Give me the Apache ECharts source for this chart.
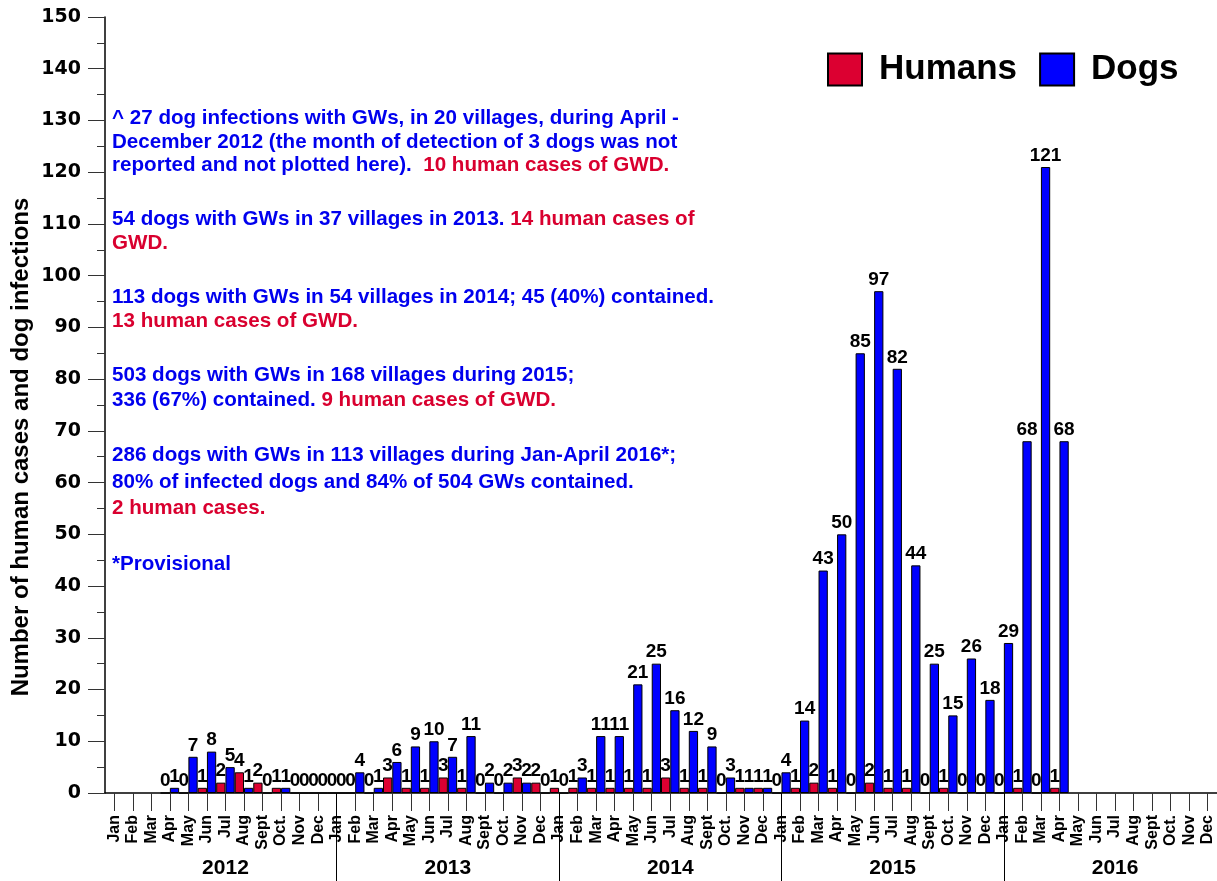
<!DOCTYPE html>
<html>
<head>
<meta charset="utf-8">
<script src="https://cdn.jsdelivr.net/npm/echarts@6/dist/echarts.min.js"></script>
<style>
html,body{margin:0;padding:0;background:#fff;}
#chart{width:1217px;height:881px;}
</style>
</head>
<body>
<div id="chart"></div>
<script>
// ---- data ----
const monthNames = ['Jan','Feb','Mar','Apr','May','Jun','Jul','Aug','Sept','Oct.','Nov','Dec'];
const yearLabels = ['2012','2013','2014','2015','2016'];

const humans2012 = [null,null,null,0,0,1,2,4,2,1,0,0];
const dogs2012   = [null,null,null,1,7,8,5,1,0,1,0,0];
const humans2013 = [0,0,0,3,1,1,3,1,0,0,3,2];
const dogs2013   = [0,4,1,6,9,10,7,11,2,2,2,0];
const humans2014 = [1,1,1,1,1,1,3,1,1,0,1,1];
const dogs2014   = [0,3,11,11,21,25,16,12,9,3,1,1];
const humans2015 = [0,1,2,1,0,2,1,1,0,1,0,0];
const dogs2015   = [4,14,43,50,85,97,82,44,25,15,26,18];
const humans2016 = [0,1,0,1,null,null,null,null,null,null,null,null];
const dogs2016   = [29,68,121,68,null,null,null,null,null,null,null,null];

const yTicks = {min:0, max:150, step:10};

const BLUE_TXT = '#0000EE', RED_TXT = '#D9002F';
// annotation lines: [segments], each segment [colorKey, text]
const notes = [
  [['b','^ 27 dog infections with GWs, in 20 villages, during April -']],
  [['b','December 2012 (the month of detection of 3 dogs was not']],
  [['b','reported and not plotted here).  '],['r','10 human cases of GWD.']],
  [['b','54 dogs with GWs in 37 villages in 2013. '],['r','14 human cases of']],
  [['r','GWD.']],
  [['b','113 dogs with GWs in 54 villages in 2014; 45 (40%) contained.']],
  [['r','13 human cases of GWD.']],
  [['b','503 dogs with GWs in 168 villages during 2015;']],
  [['b','336 (67%) contained. '],['r','9 human cases of GWD.']],
  [['b','286 dogs with GWs in 113 villages during Jan-April 2016*;']],
  [['b','80% of infected dogs and 84% of 504 GWs contained.']],
  [['r','2 human cases.']],
  [['b','*Provisional']]
];
const noteY = [118,142,165,219,243,297,321,375,400,455,482,508,564];

// ---- build ----
const categories = [];
yearLabels.forEach(() => monthNames.forEach(m => categories.push(m)));
const yearCats = categories.map((m, i) => (i % 12 === 6 ? yearLabels[Math.floor(i / 12)] : ''));
const humans = [].concat(humans2012, humans2013, humans2014, humans2015, humans2016);
const dogs = [].concat(dogs2012, dogs2013, dogs2014, dogs2015, dogs2016);

const chart = echarts.init(document.getElementById('chart'));
const SANS = 'Liberation Sans, Arial, sans-serif';

const barLabel = {
  show: true, position: 'top', distance: 2,
  fontSize: 19, fontWeight: 'bold', color: '#000', fontFamily: SANS
};

const noteFont = {fontSize: 20.6, fontWeight: 'bold', fontFamily: SANS};
const graphics = notes.map((segs, i) => ({
  type: 'text',
  silent: true,
  style: {
    x: 112, y: noteY[i],
    text: segs.map(s => '{' + s[0] + '|' + s[1] + '}').join(''),
    verticalAlign: 'middle', align: 'left',
    rich: {
      b: Object.assign({fill: BLUE_TXT}, noteFont),
      r: Object.assign({fill: RED_TXT}, noteFont)
    }
  }
}));
graphics.push({
  type: 'text', silent: true,
  x: 21, y: 447, rotation: Math.PI / 2,
  style: {
    x: 0, y: 0,
    text: 'Number of human cases and dog infections',
    align: 'center', verticalAlign: 'middle',
    fill: '#000', fontSize: 24, fontWeight: 'bold',
    fontFamily: SANS
  }
});

chart.setOption({
  animation: false,
  backgroundColor: '#fff',
  grid: {left: 105, width: 1116, top: 17, bottom: 88, containLabel: false},
  legend: {
    data: ['Humans', 'Dogs'],
    left: 827, top: 52, padding: 0,
    icon: 'rect', itemWidth: 34, itemHeight: 32, itemGap: 22,
    selectedMode: false,
    textStyle: {fontSize: 35, fontWeight: 'bold', color: '#000', fontFamily: SANS, padding: [0, 0, 0, 12]}
  },
  xAxis: [
    {
      type: 'category', data: categories, boundaryGap: true,
      axisLine: {show: true, lineStyle: {color: '#000', width: 1.5}},
      axisTick: {show: true, alignWithLabel: true, interval: 0, length: 18, lineStyle: {color: '#333', width: 1}},
      axisLabel: {rotate: 90, interval: 0, margin: 22, fontSize: 16, fontWeight: 'bold', color: '#000', fontFamily: SANS}
    },
    {
      type: 'category', data: yearCats, boundaryGap: true, position: 'bottom',
      axisLine: {show: false},
      axisTick: {show: true, alignWithLabel: true, length: 88, interval: (i) => i > 0 && i % 12 === 0, lineStyle: {color: '#000', width: 1}},
      axisLabel: {interval: 0, margin: 65, fontSize: 21, fontWeight: 'bold', color: '#000', fontFamily: SANS}
    }
  ],
  yAxis: {
    type: 'value', min: yTicks.min, max: yTicks.max, interval: yTicks.step,
    axisLine: {show: true, lineStyle: {color: '#000', width: 1.5}},
    axisTick: {show: true, length: 17, lineStyle: {color: '#333'}},
    minorTick: {show: true, splitNumber: 2, length: 8, lineStyle: {color: '#333'}},
    splitLine: {show: false},
    axisLabel: {margin: 24, fontFamily: 'DejaVu Sans, sans-serif', fontWeight: 'bold', fontSize: 19, color: '#000'}
  },
  series: [
    {
      name: 'Humans', type: 'bar', data: humans,
      barGap: '0%', barCategoryGap: '0%',
      itemStyle: {color: '#DC0031', borderColor: '#000', borderWidth: 1},
      label: barLabel
    },
    {
      name: 'Dogs', type: 'bar', data: dogs,
      barGap: '0%', barCategoryGap: '0%',
      itemStyle: {color: '#0000FF', borderColor: '#000', borderWidth: 1},
      label: barLabel
    }
  ],
  graphic: graphics
});
</script>
</body>
</html>
